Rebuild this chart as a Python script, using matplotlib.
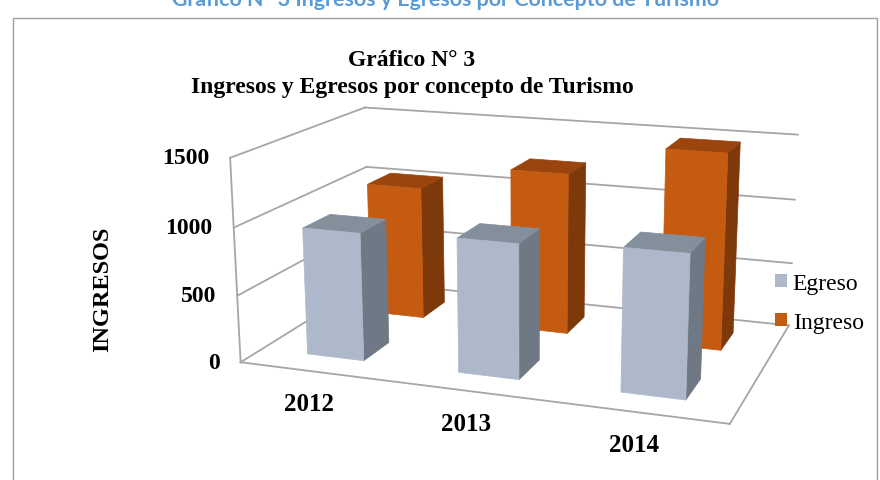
import matplotlib
matplotlib.use('Agg')
import matplotlib.pyplot as plt
from matplotlib.patches import Patch, Rectangle
from matplotlib.colors import to_rgba
from mpl_toolkits.mplot3d import proj3d

# ---- data ----
years = ['2012', '2013', '2014']
series_names = ['Egreso', 'Ingreso']
egreso = [950, 980, 1020]
ingreso = [1040, 1240, 1480]
z_ticks = [0, 500, 1000, 1500]

title_line1 = 'Gráfico N° 3'
title_line2 = 'Ingresos y Egresos por concepto de Turismo'
doc_caption = 'Gráfico N° 3 Ingresos y Egresos por Concepto de Turismo'
y_label = 'INGRESOS'

# ---- styles ----
EG_FRONT, EG_SIDE, EG_TOP = '#ADB9CA', '#6F7986', '#848F9C'
IN_FRONT, IN_SIDE, IN_TOP = '#C55A11', '#7E390B', '#9A440E'
GRID = '#A6A6A6'
SERIF = ['Liberation Serif', 'DejaVu Serif']

W, H = 880, 481
fig = plt.figure(figsize=(W / 100, H / 100), dpi=100)

S = 800
cx, cy = 514, 258
ax = fig.add_axes([(cx - S / 2) / W, (H - cy - S / 2) / H, S / W, S / H],
                  projection='3d', proj_type='persp', focal_length=0.35)
ax.set_box_aspect((2.38, 1.45, 1.0), zoom=1.25 * 480 / S * 0.95 * 1.03)
ax.view_init(elev=15, azim=-70.5)
x0, x1 = -0.5, len(years) - 0.5
y0, y1 = -0.5, len(series_names) - 0.5
ax.set_xlim(x0, x1)
ax.set_ylim(y0, y1)
ax.set_zlim(0, z_ticks[-1])
ax.set_axis_off()
ax.patch.set_alpha(0)
ax.computed_zorder = False


def face_colors(front, side, top):
    none = (0, 0, 0, 0)
    # order: -z, +z, -y, +y, -x, +x
    return [none, to_rgba(top), to_rgba(front), none, none, to_rgba(side)]


bw, bd = 0.38, 0.4
# back row (Ingreso) first, then front row (Egreso)
for z_base, ypos, vals, cols in [(2, 1, ingreso, (IN_FRONT, IN_SIDE, IN_TOP)),
                                 (6, 0, egreso, (EG_FRONT, EG_SIDE, EG_TOP))]:
    for i, v in enumerate(vals):
        fc = face_colors(*cols)
        ax.bar3d(i - bw / 2, ypos - bd / 2, 0, bw, bd, v, color=fc,
                 edgecolor=fc, linewidth=0.5, shade=False, zorder=z_base + i)

# walls / grid
for z in z_ticks:
    ax.plot([x0, x0], [y0, y1], [z, z], color=GRID, lw=1.3, zorder=1)
    ax.plot([x0, x1], [y1, y1], [z, z], color=GRID, lw=1.3, zorder=1)
ax.plot([x0, x0], [y0, y0], [0, z_ticks[-1]], color=GRID, lw=1.3, zorder=1)
ax.plot([x0, x1], [y0, y0], [0, 0], color=GRID, lw=1.3, zorder=12)
ax.plot([x1, x1], [y0, y1], [0, 0], color=GRID, lw=1.3, zorder=12)

fig.canvas.draw()
M = ax.get_proj()


def to_disp(x, y, z):
    xs, ys, _ = proj3d.proj_transform(x, y, z, M)
    return ax.transData.transform((xs, ys))


for z in z_ticks:
    px, py = to_disp(x0, y0, z)
    fig.text((px - 21) / W, py / H, str(z), ha='right', va='center',
             fontsize=17, fontweight='bold', family=SERIF)

for i, yr in enumerate(years):
    px, py = to_disp(i, y0, 0)
    fig.text((px - 6) / W, (py - 32) / H, yr, ha='center', va='center',
             fontsize=18, fontweight='bold', family=SERIF)

fig.text(103 / W, 1 - 289 / H, y_label, rotation=90, ha='center', va='center',
         fontsize=17.5, fontweight='bold', family=SERIF)

fig.text(412 / W, 1 - 66 / H, title_line1, ha='center', va='baseline',
         fontsize=17, fontweight='bold', family=SERIF)
fig.text(412 / W, 1 - 93 / H, title_line2, ha='center', va='baseline',
         fontsize=17, fontweight='bold', family=SERIF)

fig.text(445 / W, 1 - 6 / H, doc_caption, ha='center', va='baseline',
         fontsize=15.4, fontweight='bold', color='#5B9BD5', family=['Lato', 'DejaVu Sans'])

fig.patches.append(Rectangle((12.5 / W, -0.05), (877 - 12.5) / W, 1.05 - 18.5 / H,
                             transform=fig.transFigure, fill=False,
                             edgecolor='#A0A0A0', lw=1.0))

handles = [Patch(facecolor=EG_FRONT), Patch(facecolor=IN_FRONT)]
fig.legend(handles, series_names, loc='upper left',
           bbox_to_anchor=(775 / W, 1 - 274 / H), frameon=False,
           prop={'family': SERIF, 'size': 17}, handlelength=0.5,
           handleheight=0.5, handletextpad=0.25, labelspacing=0.75,
           borderpad=0, borderaxespad=0)

fig.savefig('out.png', dpi=100)
